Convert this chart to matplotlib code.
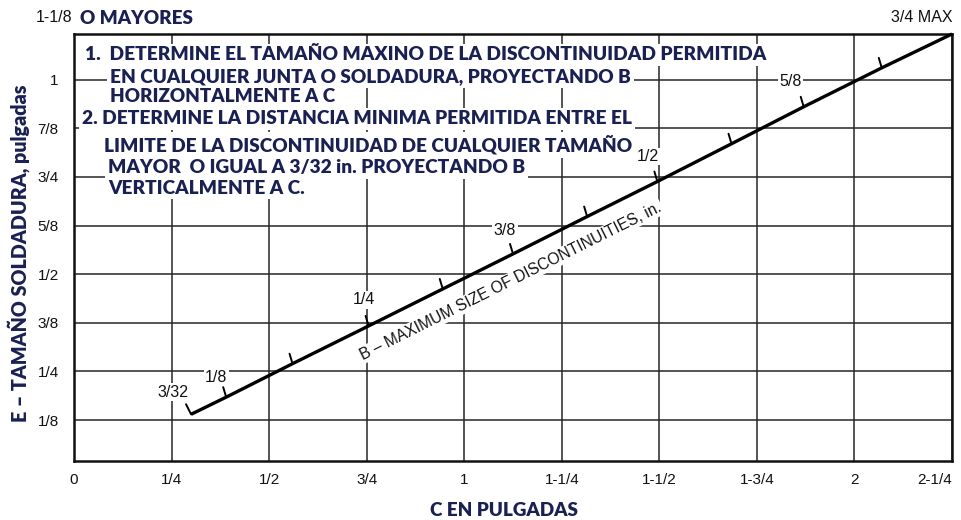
import math
import matplotlib
matplotlib.use("Agg")
import matplotlib.pyplot as plt

# ---------------- data ----------------
x_ticks = [0, 0.25, 0.5, 0.75, 1.0, 1.25, 1.5, 1.75, 2.0, 2.25]
x_labels = ["0", "1/4", "1/2", "3/4", "1", "1-1/4", "1-1/2", "1-3/4", "2", "2-1/4"]
y_ticks = [0.125, 0.25, 0.375, 0.5, 0.625, 0.75, 0.875, 1.0]
y_labels = ["1/8", "1/4", "3/8", "1/2", "5/8", "3/4", "7/8", "1"]

# B (max size of discontinuity) marks along the line: C (x) and E (y)
b_labels = ["3/32", "1/8", "", "1/4", "", "3/8", "", "1/2", "", "5/8", "", "3/4 MAX"]
c_pos = [0.30, 0.39, 0.56, 0.755, 0.945, 1.125, 1.315, 1.495, 1.685, 1.87, 2.07, 2.25]
e_pos = [0.14, 0.184, 0.27, 0.367, 0.462, 0.552, 0.648, 0.738, 0.835, 0.93, 1.03, 1.117]

notes = [
    "1.  DETERMINE EL TAMAÑO MAXINO DE LA DISCONTINUIDAD PERMITIDA",
    "EN CUALQUIER JUNTA O SOLDADURA, PROYECTANDO B",
    "HORIZONTALMENTE A C",
    "2. DETERMINE LA DISTANCIA MINIMA PERMITIDA ENTRE EL",
    "LIMITE DE LA DISCONTINUIDAD DE CUALQUIER TAMAÑO",
    "MAYOR  O IGUAL A 3/32 in. PROYECTANDO B",
    "VERTICALMENTE A C.",
]
# layout for the notes (pixel: left, right, y centre)
notes_layout = [(85, 767, 55), (110, 628, 77), (110, 333, 97), (82, 633, 119),
                (104, 630, 145), (108, 526, 168), (108, 305, 188)]
label_offsets = [(-18, 22), (-10, 20), None, (-5, 26), None, (-8, 23), None,
                 (-10, 25), None, (-13, 25), None, (-30, 16)]

W, H = 961, 520
NAVY = "#1a2052"
INK = "#111111"
ARIAL = ["Liberation Sans", "DejaVu Sans"]
BOLD = ["Lato", "DejaVu Sans"]

fig = plt.figure(figsize=(W / 100, H / 100), dpi=100)
ax = fig.add_axes([74 / W, 1 - 461 / H, (952 - 74) / W, (461 - 34) / H])
ax.set_xlim(0, 2.25)
ax.set_ylim(0.02, 1.117)

ax.set_xticks(x_ticks)
ax.set_xticklabels(x_labels, family=ARIAL, fontsize=11, color=INK)
ax.set_yticks(y_ticks)
ax.set_yticklabels(y_labels, family=ARIAL, fontsize=11, color=INK)
ax.get_xticklabels()[-1].set_horizontalalignment("right")
ax.tick_params(axis="both", length=0)
ax.tick_params(axis="y", pad=11)
ax.tick_params(axis="x", pad=9)
ax.grid(True, color="#262626", lw=1.1)
ax.set_axisbelow(True)
for s in ax.spines.values():
    s.set_linewidth(1.8)
    s.set_color("#111111")

# main line
ax.plot(c_pos, e_pos, color="black", lw=2.4, solid_capstyle="butt",
        clip_on=False, zorder=4)

# tick marks along the line
for i, (c, e) in enumerate(zip(c_pos, e_pos)):
    if i == len(c_pos) - 1:
        continue
    off = (-5, 10) if i == 0 else (-3, 10)
    ax.annotate("", xy=(c, e), xytext=off, textcoords="offset pixels",
                arrowprops=dict(arrowstyle="-", lw=1.4, color="black",
                                shrinkA=0, shrinkB=0), zorder=4)

# labels of B
for lbl, c, e, off in zip(b_labels, c_pos, e_pos, label_offsets):
    if not lbl:
        continue
    ax.annotate(lbl, xy=(c, e), xytext=off, textcoords="offset pixels",
                ha="center", va="center", fontsize=11.5, family=ARIAL,
                color=INK, annotation_clip=False, zorder=5,
                bbox=dict(fc="white", ec="none", pad=1.0) if "MAX" not in lbl else None)

renderer = fig.canvas.get_renderer()


def fit_width(t, target):
    for _ in range(3):
        w = t.get_window_extent(renderer).width
        t.set_fontsize(t.get_fontsize() * target / w)


def fit_height(t, target):
    for _ in range(3):
        h = t.get_window_extent(renderer).height
        t.set_fontsize(t.get_fontsize() * target / h)


# rotated label along the line
p0 = ax.transData.transform((c_pos[0], e_pos[0]))
p1 = ax.transData.transform((c_pos[-1], e_pos[-1]))
angle = math.degrees(math.atan2(p1[1] - p0[1], p1[0] - p0[0]))
bt = ax.text(1.12, 0.482, "B – MAXIMUM SIZE OF DISCONTINUITIES, in.",
             ha="center", va="center", fontsize=11, family=ARIAL,
             color=INK, zorder=5, rotation_mode="anchor",
             bbox=dict(fc="white", ec="none", pad=0.8))
fit_width(bt, 334)
bt.set_rotation(angle)

# notes overlay
for txt, (x0, x1, yc) in zip(notes, notes_layout):
    t = fig.text(x0 / W, 1 - yc / H, txt, ha="left", va="center",
                 fontsize=13, family=BOLD, fontweight="heavy", color=NAVY,
                 zorder=10, bbox=dict(fc="white", ec="none", pad=2.0))
    fit_width(t, x1 - x0)

# top labels
fig.text(72 / W, 1 - 18 / H, "1-1/8", ha="right", va="center", fontsize=11.5,
         family=ARIAL, color=INK)
t = fig.text(80 / W, 1 - 18 / H, "O MAYORES", ha="left", va="center",
             fontsize=13, family=BOLD, fontweight="heavy", color=NAVY)
fit_width(t, 113)

# axis titles
yl = fig.text(19 / W, 1 - 253 / H, "E – TAMAÑO SOLDADURA, pulgadas", rotation=90,
              ha="center", va="center", fontsize=13, family=BOLD,
              fontweight="heavy", color=NAVY)
fit_height(yl, 337)
xl = fig.text(504 / W, 1 - 510 / H, "C EN PULGADAS", ha="center", va="center",
              fontsize=13, family=BOLD, fontweight="heavy", color=NAVY)
fit_width(xl, 148)

fig.savefig("out.png", dpi=100)
